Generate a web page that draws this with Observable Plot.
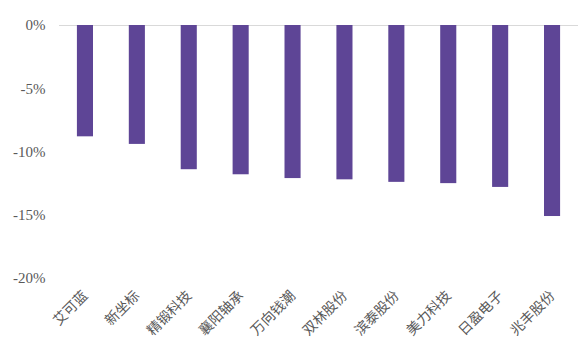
<!DOCTYPE html>
<html>
<head>
<meta charset="utf-8">
<script src="https://cdn.jsdelivr.net/npm/d3@7"></script>
<script src="https://cdn.jsdelivr.net/npm/@observablehq/plot@0.6"></script>
<style>
  html, body { margin: 0; padding: 0; background: #fff; }
  #chart { width: 579px; height: 360px; }
</style>
</head>
<body>
<div id="chart"></div>
<script>
const categories = ["艾可蓝", "新坐标", "精锻科技", "襄阳轴承", "万向钱潮", "双林股份", "滨泰股份", "美力科技", "日盈电子", "兆丰股份"];
const values = [-8.8, -9.4, -11.4, -11.8, -12.1, -12.2, -12.4, -12.5, -12.8, -15.1];
const yTicks = [0, -5, -10, -15, -20];

const data = categories.map((c, i) => ({ name: c, value: values[i] }));

const chart = Plot.plot({
  width: 579,
  height: 360,
  marginLeft: 59,
  marginRight: 1,
  marginTop: 25,
  marginBottom: 82,
  style: { background: "#fff", overflow: "visible" },
  x: { domain: categories, paddingInner: 0.69, paddingOuter: 0.345, round: false, label: null },
  y: { domain: [-20, 0], label: null },
  marks: [
    Plot.ruleY([0], { stroke: "#d9d9d9", strokeWidth: 1 }),
    Plot.barY(data, { x: "name", y: "value", fill: "#5e4596" }),
    Plot.axisY({
      ticks: yTicks,
      tickFormat: d => d + "%",
      tickSize: 0,
      tickPadding: 14,
      fontSize: 15,
      fontFamily: "Liberation Serif",
      color: "#595959",
      label: null
    }),
    Plot.axisX({
      tickRotate: -45,
      tickSize: 0,
      tickPadding: 15,
      fontSize: 14,
      fontFamily: "Noto Sans CJK SC",
      color: "#595959",
      label: null
    })
  ]
});
document.getElementById("chart").appendChild(chart);
</script>
</body>
</html>
